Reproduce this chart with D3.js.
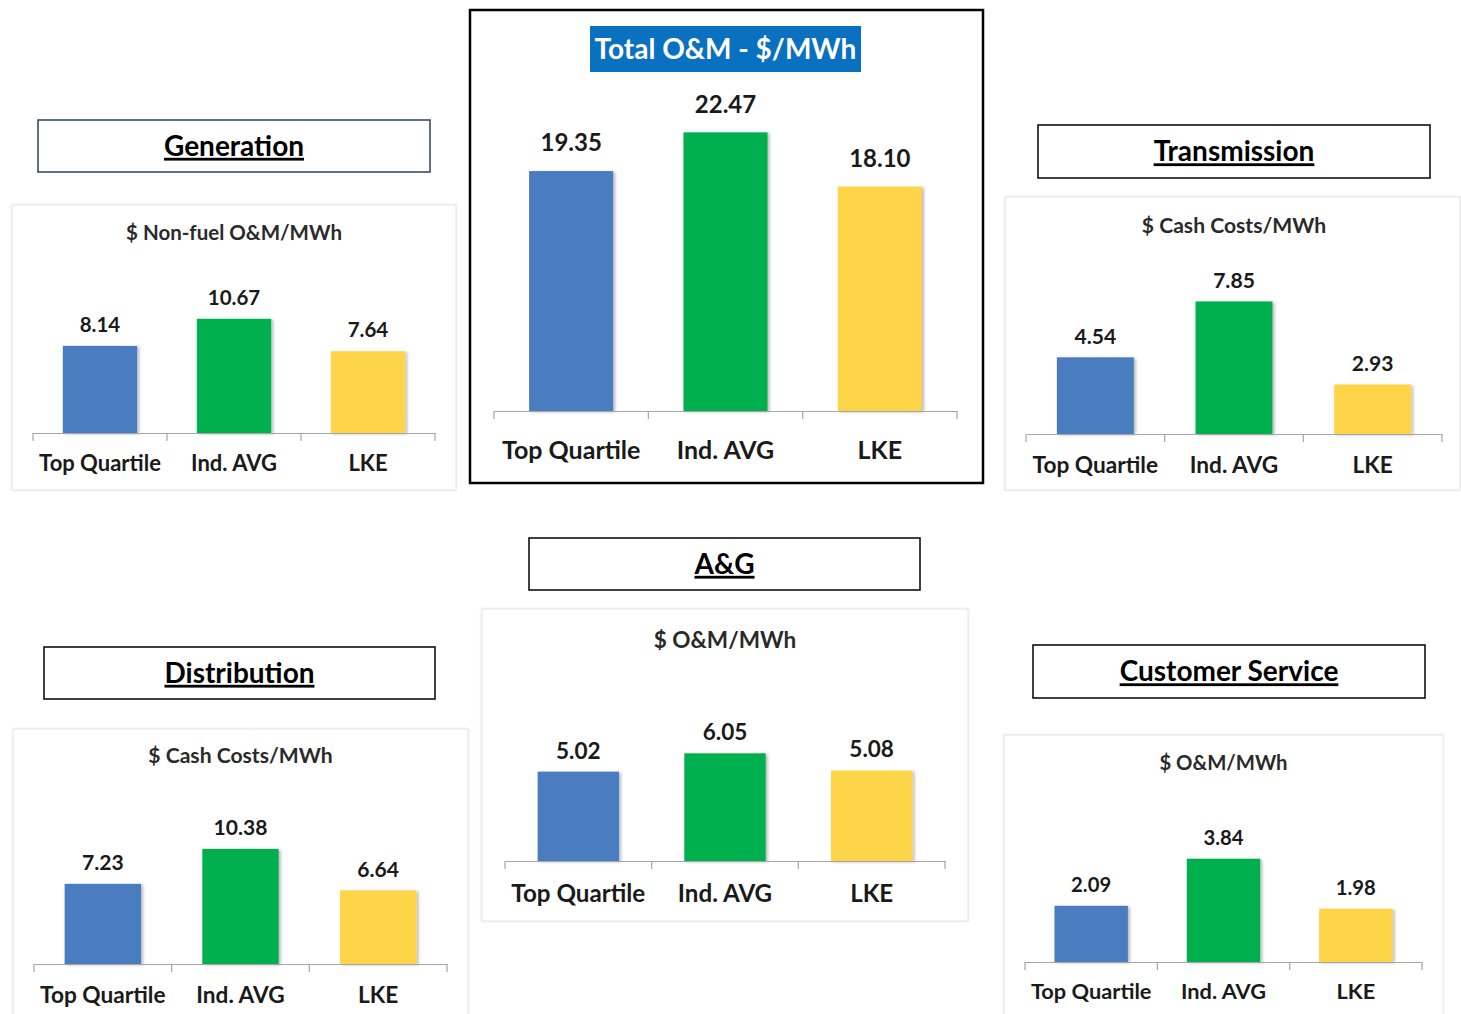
<!DOCTYPE html>
<html><head><meta charset="utf-8">
<script src="https://cdn.jsdelivr.net/npm/d3@7"></script>
<style>
html,body{margin:0;padding:0;background:#fff;}
svg{display:block;font-family:Lato,"Open Sans",sans-serif;}
</style></head>
<body>
<svg id="chart" width="1461" height="1014"></svg>
<script>
// ---------- DATA ----------
const categories = ["Top Quartile", "Ind. AVG", "LKE"];
const totalValues = [19.35, 22.47, 18.10];
const generationValues = [8.14, 10.67, 7.64];
const transmissionValues = [4.54, 7.85, 2.93];
const agValues = [5.02, 6.05, 5.08];
const distributionValues = [7.23, 10.38, 6.64];
const customerValues = [2.09, 3.84, 1.98];
const panelHeaders = ["Generation", "Transmission", "A&G", "Distribution", "Customer Service"];
const panelSubtitles = ["$ Non-fuel O&M/MWh", "$ Cash Costs/MWh", "$ O&M/MWh", "$ Cash Costs/MWh", "$ O&M/MWh"];
const totalTitle = "Total O&M - $/MWh";
const barColors = ["#4a7dbf", "#00b04f", "#fed448"];

// ---------- LAYOUT ----------
const svg = d3.select("#chart");
const defs = svg.append("defs");
const f = defs.append("filter").attr("id", "shadow").attr("x", "-20%").attr("y", "-20%").attr("width", "150%").attr("height", "150%");
f.append("feDropShadow").attr("dx", 2).attr("dy", 1).attr("stdDeviation", 1.6).attr("flood-color", "#000").attr("flood-opacity", 0.28);
const fa = defs.append("filter").attr("id", "areaShadow").attr("x", "-5%").attr("y", "-5%").attr("width", "110%").attr("height", "110%");
fa.append("feDropShadow").attr("dx", 0).attr("dy", 0).attr("stdDeviation", 1.2).attr("flood-color", "#000").attr("flood-opacity", 0.12);

const fmt = d3.format(".2f");
const color = d3.scaleOrdinal().domain(categories).range(barColors);

const panels = [
  {values: generationValues, header: panelHeaders[0], subtitle: panelSubtitles[0], headerBox: [38, 120, 392, 52], headerStroke: "#3b4a6b",
   area: [12, 205, 444, 285], subY: 233, axisY: 433, x0: 33, x1: 435, yMax: 12, yTop: 304.6, scale: 1},
  {values: transmissionValues, header: panelHeaders[1], subtitle: panelSubtitles[1], headerBox: [1038, 125, 392, 53], headerStroke: "#111",
   area: [1005, 197, 455, 293], subY: 226, axisY: 434, x0: 1026, x1: 1442, yMax: 9, yTop: 282, scale: 1.03},
  {values: agValues, header: panelHeaders[2], subtitle: panelSubtitles[2], headerBox: [529, 538, 391, 52], headerStroke: "#111",
   area: [482, 609, 486, 312], subY: 640, axisY: 861, x0: 505, x1: 945, yMax: 7, yTop: 736.4, scale: 1.1},
  {values: distributionValues, header: panelHeaders[3], subtitle: panelSubtitles[3], headerBox: [44, 647, 391, 52], headerStroke: "#111",
   area: [13, 729, 455, 300], subY: 756, axisY: 964, x0: 34, x1: 447, yMax: 12, yTop: 831, scale: 1.03},
  {values: customerValues, header: panelHeaders[4], subtitle: panelSubtitles[4], headerBox: [1033, 645, 392, 53], headerStroke: "#111",
   area: [1004, 735, 439, 290], subY: 763, axisY: 962, x0: 1025, x1: 1422, yMax: 4.5, yTop: 841, scale: 0.99}
];

function drawBars(g, values, x, y, axisY, valueFont, valueOffset, catFont, catOffset) {
  const data = categories.map((c, i) => ({c, v: values[i]}));
  g.selectAll("rect.bar").data(data).join("rect").attr("class", "bar")
    .attr("x", d => x(d.c)).attr("width", x.bandwidth())
    .attr("y", d => y(d.v)).attr("height", d => y(0) - y(d.v))
    .attr("fill", d => color(d.c)).attr("filter", "url(#shadow)");
  g.selectAll("text.val").data(data).join("text").attr("class", "val")
    .attr("x", d => x(d.c) + x.bandwidth() / 2)
    .attr("y", d => y(d.v) - valueOffset)
    .attr("text-anchor", "middle").attr("dy", "0.35em")
    .attr("font-size", valueFont).attr("font-weight", "bold").attr("fill", "#1a1a1a")
    .text(d => fmt(d.v));
  const ax = g.append("g").attr("transform", `translate(0,${axisY})`)
    .call(d3.axisBottom(x).tickSize(0).tickPadding(0));
  ax.select(".domain").attr("stroke", "#a6a6a6").attr("stroke-width", 1.2);
  ax.selectAll("text").attr("y", catOffset).attr("dy", "0.35em")
    .attr("font-size", catFont).attr("font-weight", "bold").attr("fill", "#1a1a1a")
    .attr("font-family", "Lato, sans-serif");
  const r = x.range();
  const bounds = d3.range(categories.length + 1).map(i => r[0] + i * x.step());
  ax.selectAll("line.bound").data(bounds).join("line").attr("class", "bound")
    .attr("x1", d => d).attr("x2", d => d).attr("y1", 0).attr("y2", 8)
    .attr("stroke", "#a6a6a6").attr("stroke-width", 1.2);
}

panels.forEach(p => {
  const g = svg.append("g");
  const [hx, hy, hw, hh] = p.headerBox;
  g.append("rect").attr("x", hx).attr("y", hy).attr("width", hw).attr("height", hh)
    .attr("fill", "#fff").attr("stroke", p.headerStroke).attr("stroke-width", 1.6);
  g.append("text").attr("x", hx + hw / 2).attr("y", hy + hh / 2).attr("dy", "0.35em")
    .attr("text-anchor", "middle").attr("font-size", 28).attr("font-weight", "bold")
    .attr("text-decoration", "underline").attr("fill", "#000").text(p.header);
  const [ax0, ay0, aw, ah] = p.area;
  g.append("rect").attr("x", ax0).attr("y", ay0).attr("width", aw).attr("height", ah)
    .attr("fill", "#fff").attr("stroke", "#e4e4e4").attr("stroke-width", 1).attr("filter", "url(#areaShadow)");
  g.append("text").attr("x", (p.x0 + p.x1) / 2).attr("y", p.subY).attr("dy", "0.35em")
    .attr("text-anchor", "middle").attr("font-size", 20.5 * p.scale).attr("font-weight", "bold")
    .attr("fill", "#2a2a2a").text(p.subtitle);
  const x = d3.scaleBand().domain(categories).range([p.x0, p.x1]).paddingInner(0.445).paddingOuter(0.2225);
  const y = d3.scaleLinear().domain([0, p.yMax]).range([p.axisY, p.yTop]);
  drawBars(g, p.values, x, y, p.axisY, 20.5 * p.scale, 21, 22 * p.scale, 30 * p.scale);
});

// ---------- TOTAL PANEL ----------
const tg = svg.append("g");
tg.append("rect").attr("x", 470).attr("y", 10).attr("width", 513).attr("height", 473)
  .attr("fill", "#fff").attr("stroke", "#000").attr("stroke-width", 2.5);
tg.append("rect").attr("x", 590).attr("y", 26).attr("width", 271).attr("height", 46).attr("fill", "#0a70c0");
tg.append("text").attr("x", 725.5).attr("y", 49).attr("dy", "0.35em").attr("text-anchor", "middle")
  .attr("font-size", 28).attr("font-weight", "bold").attr("fill", "#fff").text(totalTitle);
const tx = d3.scaleBand().domain(categories).range([494, 957]).paddingInner(0.455).paddingOuter(0.2275);
const ty = d3.scaleLinear().domain([0, 25]).range([411, 101]);
drawBars(tg, totalValues, tx, ty, 411, 24, 28, 25, 39);
</script>
</body></html>
